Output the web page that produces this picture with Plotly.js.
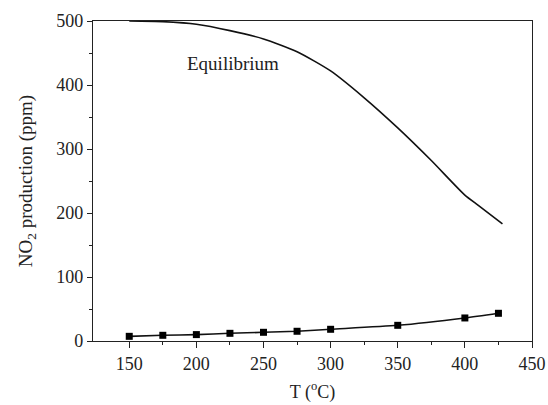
<!DOCTYPE html>
<html>
<head>
<meta charset="utf-8">
<script src="https://cdn.plot.ly/plotly-3.0.1.min.js"></script>
<style>html,body{margin:0;padding:0;background:#fff;}#chart{width:548px;height:405px;}</style>
</head>
<body>
<div id="chart"></div>
<script>
var eqT = [150, 175, 200, 225, 250, 275, 300, 325, 350, 375, 400, 410, 428];
var eqNO2 = [500, 499, 495, 485, 472, 452, 422, 380, 333, 282, 228, 212, 183];
var measT = [150, 175, 200, 225, 250, 275, 300, 350, 400, 425];
var measNO2 = [7.3, 8.9, 10, 12, 13.6, 15.2, 18.3, 24.5, 36, 43.3];
var xTicks = [150, 200, 250, 300, 350, 400, 450];
var yTicks = [0, 100, 200, 300, 400, 500];
var eqLabel = 'Equilibrium';

var fam = 'Liberation Serif, Times New Roman, serif';
function f(s) { return {family: fam, size: s, color: '#222'}; }

var traces = [
  {x: eqT, y: eqNO2, mode: 'lines', line: {color: '#111', width: 1.6, shape: 'spline', smoothing: 0.6}, showlegend: false},
  {x: measT, y: measNO2, mode: 'lines+markers', line: {color: '#111', width: 1.6, shape: 'spline', smoothing: 0.6},
   marker: {symbol: 'square', size: 7, color: '#000'}, showlegend: false}
];

var layout = {
  width: 548, height: 405,
  margin: {l: 93, r: 16, t: 21, b: 64},
  paper_bgcolor: '#fff', plot_bgcolor: '#fff',
  font: f(18),
  showlegend: false,
  xaxis: {
    range: [123, 450], tickvals: xTicks, ticktext: xTicks.map(String),
    showline: true, linecolor: '#222', linewidth: 1.2, mirror: true,
    ticks: 'outside', ticklen: 6, tickwidth: 1, tickcolor: '#222',
    minor: {tickvals: [175, 225, 275, 325, 375, 425], ticks: 'outside', ticklen: 3, tickcolor: '#222'},
    showgrid: false, zeroline: false, automargin: false,
    tickfont: f(18),
    title: {text: 'T (<sup>o</sup>C)', font: f(18), standoff: 12}
  },
  yaxis: {
    range: [0, 500], tickvals: yTicks, ticktext: yTicks.map(String),
    showline: true, linecolor: '#222', linewidth: 1.2, mirror: true,
    ticks: 'outside', ticklen: 5, tickwidth: 1, tickcolor: '#222',
    minor: {tickvals: [50, 150, 250, 350, 450], ticks: 'outside', ticklen: 3, tickcolor: '#222'},
    showgrid: false, zeroline: false, automargin: false,
    tickfont: f(18),
    title: {text: 'NO<sub>2</sub> production (ppm)', font: f(19), standoff: 18}
  },
  annotations: [{
    x: 227, y: 434, xref: 'x', yref: 'y', text: eqLabel, showarrow: false,
    font: f(19)
  }]
};

Plotly.newPlot('chart', traces, layout, {displayModeBar: false, staticPlot: true});
</script>
</body>
</html>
